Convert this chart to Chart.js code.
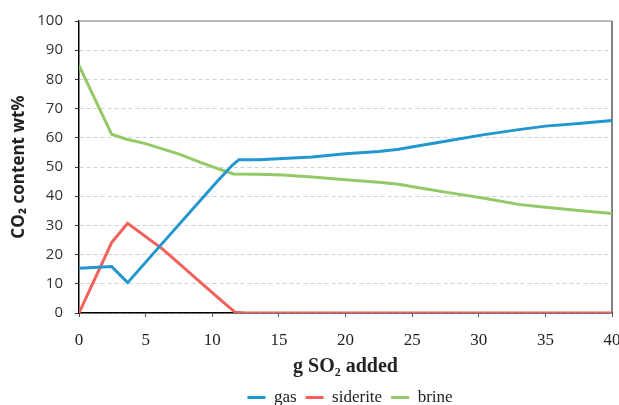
<!DOCTYPE html>
<html>
<head>
<meta charset="utf-8">
<script src="https://cdn.jsdelivr.net/npm/chart.js@4.4.1/dist/chart.umd.min.js"></script>
<style>
  html, body { margin: 0; padding: 0; background: #fff; }
  #wrap { width: 619px; height: 405px; }
</style>
</head>
<body>
<div id="wrap"><canvas id="c" width="619" height="405"></canvas></div>
<script>
// SO2 added (g) vs CO2 content (wt%) per phase
const gasX      = [0, 2.45, 3.65, 6.3, 10.4, 11.5, 12.0, 13.5, 15.3, 17.5, 20, 22.5, 24.0, 25.5, 27.5, 30.3, 33.0, 35.0, 37.5, 40];
const gasY      = [15.3, 15.9, 10.4, 24.1, 45.2, 50.6, 52.5, 52.5, 52.9, 53.4, 54.5, 55.3, 56.1, 57.3, 58.8, 61.0, 62.8, 64.0, 64.9, 65.9];

const sideriteX = [0, 2.45, 3.65, 6.3, 10.3, 11.7, 12.5, 15, 20, 25, 30, 35, 40];
const sideriteY = [0, 24.1, 30.7, 21.8, 5.8, 0.3, 0, 0, 0, 0, 0, 0, 0];

const brineX    = [0, 2.45, 3.57, 5.0, 7.57, 9.06, 10.5, 11.6, 13.5, 15.3, 17.5, 20, 22.5, 24.0, 25.5, 27.5, 30.3, 33.0, 35.0, 37.5, 40];
const brineY    = [84.8, 61.2, 59.5, 58.0, 54.3, 51.7, 49.3, 47.6, 47.5, 47.3, 46.6, 45.6, 44.8, 44.1, 42.9, 41.4, 39.4, 37.2, 36.2, 35.1, 34.1];

const xTicks = [0, 5, 10, 15, 20, 25, 30, 35, 40];
const yTicks = [0, 10, 20, 30, 40, 50, 60, 70, 80, 90, 100];

const seriesNames = ['gas', 'siderite', 'brine'];
const seriesColors = ['#2196CF', '#F2615A', '#93C966'];

const SERIF = "'Liberation Serif', 'Times New Roman', serif";
const SANS = "'Open Sans', 'Liberation Sans', sans-serif";

Chart.defaults.font.family = SERIF;

function pts(xs, ys) { return xs.map((x, i) => ({ x: x, y: ys[i] })); }

// frame lines on top and right of the plot area
const frame = {
  id: 'frame',
  beforeDatasetsDraw(chart) {
    const { ctx, chartArea: a } = chart;
    ctx.save();
    ctx.lineWidth = 1.5;
    ctx.strokeStyle = '#A6A6A6';
    ctx.beginPath();
    ctx.moveTo(a.left, a.top);
    ctx.lineTo(a.right, a.top);
    ctx.stroke();
    ctx.strokeStyle = '#595959';
    ctx.beginPath();
    ctx.moveTo(a.right, a.top);
    ctx.lineTo(a.right, a.bottom);
    ctx.stroke();
    ctx.restore();
  }
};

// keep the legend row close to the bottom edge, under the plot centre
const legendRow = {
  id: 'legendRow',
  afterLayout(chart) {
    const L = chart.legend;
    if (!L) return;
    const dy = 380 - L.top;
    L.top += dy;
    L.bottom += dy;
    const dx = 36;
    L.left += dx;
    L.right += dx;
  }
};

const sets = [pts(gasX, gasY), pts(sideriteX, sideriteY), pts(brineX, brineY)];

new Chart(document.getElementById('c'), {
  type: 'line',
  data: {
    datasets: sets.map((d, i) => ({
      label: seriesNames[i],
      data: d,
      borderColor: seriesColors[i],
      backgroundColor: seriesColors[i],
      borderWidth: 3,
      pointRadius: 0,
      pointStyle: 'line',
      tension: 0,
      fill: false
    }))
  },
  options: {
    responsive: false,
    animation: false,
    layout: { padding: { left: 9, right: 0, top: 20, bottom: -16 } },
    plugins: {
      tooltip: { enabled: false },
      legend: {
        position: 'bottom',
        labels: {
          usePointStyle: true,
          pointStyleWidth: 18,
          boxHeight: 3,
          padding: 9,
          color: '#222',
          font: { family: SERIF, size: 17 }
        }
      }
    },
    scales: {
      x: {
        type: 'linear',
        min: 0,
        max: 40,
        afterBuildTicks(s) { s.ticks = xTicks.map(v => ({ value: v })); },
        afterFit(s) { s.height = 72; s.paddingRight = 7; },
        grid: { drawOnChartArea: false, drawTicks: true, tickLength: 4, tickColor: '#555', tickWidth: 1 },
        border: { display: true, color: '#000', width: 1.5 },
        ticks: {
          color: '#222',
          padding: 13,
          font: { family: SERIF, size: 17 }
        },
        title: {
          display: true,
          text: 'g SO₂ added',
          color: '#222',
          padding: { top: 2, bottom: 6 },
          font: { family: SERIF, size: 20, weight: 'bold' }
        }
      },
      y: {
        min: 0,
        max: 100,
        afterBuildTicks(s) { s.ticks = yTicks.map(v => ({ value: v })); },
        afterFit(s) { s.width = 70; },
        grid: {
          color: '#D0D0D0',
          lineWidth: 1,
          drawTicks: true,
          tickLength: 4,
          tickColor: '#333',
          tickBorderDash: []
        },
        border: { display: true, color: '#000', width: 1.5, dash: [4, 3] },
        ticks: {
          color: '#333',
          padding: 12,
          font: { family: SANS, size: 15 }
        },
        title: {
          display: true,
          text: 'CO₂ content wt%',
          color: '#222',
          padding: { top: 0, bottom: 6 },
          font: { family: SANS, size: 17, weight: 'bold' }
        }
      }
    }
  },
  plugins: [frame, legendRow]
});
</script>
</body>
</html>
